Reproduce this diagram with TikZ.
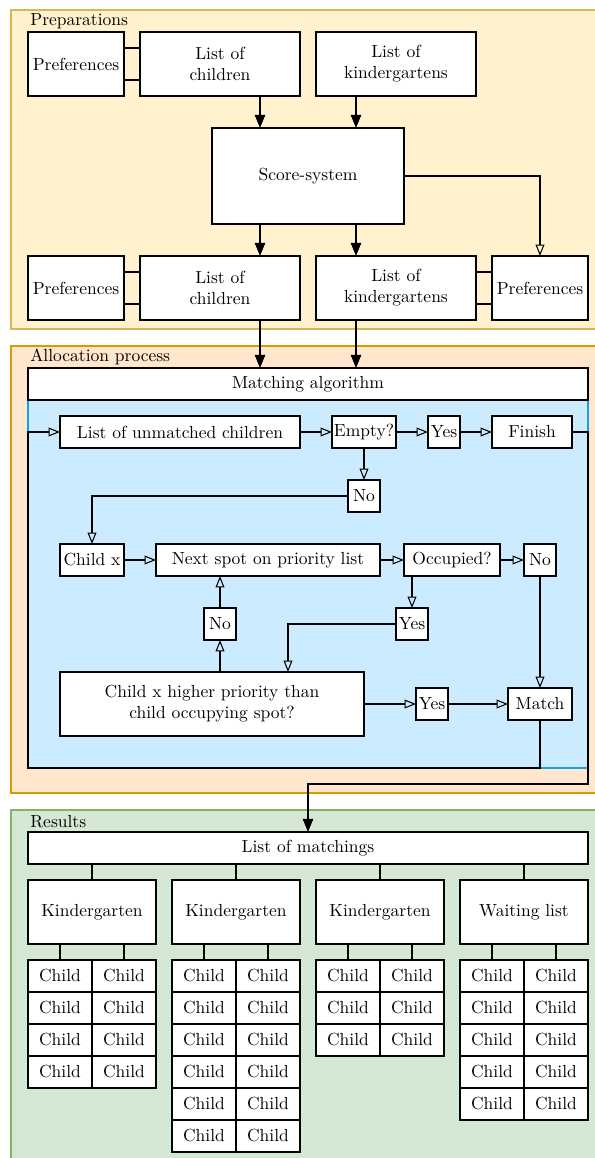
\documentclass[tikz,border=0pt]{standalone}
\usetikzlibrary{arrows.meta,calc}
\definecolor{prepfill}{HTML}{FFF2CC}
\definecolor{prepline}{HTML}{D6B656}
\definecolor{allocfill}{HTML}{FFE6CC}
\definecolor{allocline}{HTML}{D79B00}
\definecolor{resfill}{HTML}{D5E8D4}
\definecolor{resline}{HTML}{82B366}
\definecolor{lanefill}{HTML}{CCEBFF}
\definecolor{laneline}{HTML}{1BA1E2}
\begin{document}
\begin{tikzpicture}[x=0.5714pt,y=-0.5714pt,
  sz/.style 2 args={minimum width=#1*0.5714pt, minimum height=#2*0.5714pt},
  box/.style={draw, fill=white, line width=0.6pt, align=center, inner sep=1pt, outer sep=0pt},
  ln/.style={line width=0.6pt},
  farrow/.style={ln, -{Triangle[length=7.5pt,width=6pt]}},
  oarrow/.style={ln, -{Triangle[open,length=6.5pt,width=5pt]}},
  grp/.style={line width=0.7pt},
  glabel/.style={anchor=west, inner sep=0pt}]
\useasboundingbox (0,0) rectangle (594,1158);

% groups
\draw[grp, draw=prepline, fill=prepfill] (11,10) rectangle (610,329);
\node[glabel] (lprep) at (30,21) {Preparations};
\draw[grp, draw=allocline, fill=allocfill] (11,346) rectangle (610,793);
\node[glabel] (lalloc) at (30,357) {Allocation process};
\draw[grp, draw=resline, fill=resfill] (11,810) rectangle (610,1170);
\node[glabel] (lres) at (30,822) {Results};

% Preparations
\node[box, sz={96}{64}] (prefA) at (76,64) {Preferences};
\node[box, sz={160}{64}] (childA) at (220,64) {List of\\children};
\node[box, sz={160}{64}] (kgA) at (396,64) {List of\\kindergartens};
\node[box, sz={192}{96}] (score) at (308,176) {Score-system};
\node[box, sz={96}{64}] (prefB) at (76,288) {Preferences};
\node[box, sz={160}{64}] (childB) at (220,288) {List of\\children};
\node[box, sz={160}{64}] (kgB) at (396,288) {List of\\kindergartens};
\node[box, sz={96}{64}] (prefC) at (540,288) {Preferences};

\foreach \a/\b in {prefA/childA, prefB/childB, kgB/prefC} {
  \draw[ln] ($(\a.east)+(0,-16)$) -- ($(\b.west)+(0,-16)$);
  \draw[ln] ($(\a.east)+(0,16)$) -- ($(\b.west)+(0,16)$);
}
\draw[farrow] ($(childA.south)+(40,0)$) coordinate (t1) -- (t1 |- score.north);
\draw[farrow] ($(kgA.south)+(-40,0)$) coordinate (t2) -- (t2 |- score.north);
\coordinate (t3) at ($(childB.north)+(40,0)$);
\coordinate (t4) at ($(kgB.north)+(-40,0)$);
\draw[farrow] (score.south -| t3) -- (t3);
\draw[farrow] (score.south -| t4) -- (t4);
\draw[oarrow] (score.east) -| (prefC.north);

% Allocation
\node[draw=laneline, fill=lanefill, line width=0.7pt, sz={560}{368}, outer sep=0pt] (lane) at (308,584) {};
\node[box, sz={560}{32}] (matchalg) at (308,384) {Matching algorithm};
\draw[farrow] ($(childB.south)+(40,0)$) coordinate (t5) -- (t5 |- matchalg.north);
\draw[farrow] ($(kgB.south)+(-40,0)$) coordinate (t6) -- (t6 |- matchalg.north);

\node[box, sz={240}{32}] (unm) at (180,432) {List of unmatched children};
\node[box, sz={64}{32}] (empty) at (364,432) {Empty?};
\node[box, sz={32}{32}] (yes1) at (444,432) {Yes};
\node[box, sz={80}{32}] (finish) at (532,432) {Finish};
\node[box, sz={32}{32}] (no1) at (364,496) {No};
\node[box, sz={64}{32}] (childx) at (92,560) {Child x};
\node[box, sz={224}{32}] (next) at (268,560) {Next spot on priority list};
\node[box, sz={96}{32}] (occ) at (452,560) {Occupied?};
\node[box, sz={32}{32}] (no2) at (540,560) {No};
\node[box, sz={32}{32}] (no3) at (220,624) {No};
\node[box, sz={32}{32}] (yes2) at (412,624) {Yes};
\node[box, sz={304}{64}] (prio) at (212,704) {Child x higher priority than\\child occupying spot?};
\node[box, sz={32}{32}] (yes3) at (432,704) {Yes};
\node[box, sz={64}{32}] (match) at (540,704) {Match};

\draw[oarrow] (unm) -- (empty);
\draw[oarrow] (empty) -- (yes1);
\draw[oarrow] (yes1) -- (finish);
\draw[oarrow] (empty) -- (no1);
\draw[oarrow] (no1.west) -| (childx.north);
\draw[oarrow] (childx) -- (next);
\draw[oarrow] (next) -- (occ);
\draw[oarrow] (occ) -- (no2);
\draw[oarrow] (occ.south -| yes2.north) -- (yes2.north);
\draw[oarrow] (yes2.west) -| ($(prio.north)+(76,0)$);
\draw[oarrow] (prio.north -| no3.south) -- (no3.south);
\draw[oarrow] (no3.north) -- (no3.north |- next.south);
\draw[oarrow] (prio.east |- yes3.west) -- (yes3.west);
\draw[oarrow] (yes3) -- (match);
\draw[oarrow] (no2) -- (match);
\draw[oarrow] (match.south) |- (lane.south west) -- (lane.west |- unm.west) -- (unm.west);

% Results
\node[box, sz={560}{32}] (matchings) at (308,848) {List of matchings};
\draw[farrow] (finish.east) -- (finish.east -| lane.east) -- ($(lane.south east)+(0,16)$) -| (matchings.north);

\node[box, sz={128}{64}] (kg1) at (92,912) {Kindergarten};
\node[box, sz={128}{64}] (kg2) at (236,912) {Kindergarten};
\node[box, sz={128}{64}] (kg3) at (380,912) {Kindergarten};
\node[box, sz={128}{64}] (kg4) at (524,912) {Waiting list};

\foreach \g/\cx/\n in {1/92/4, 2/236/6, 3/380/3, 4/524/5} {
  \draw[ln] (matchings.south -| kg\g.north) -- (kg\g.north);
  \foreach \r in {1,...,\n} {
    \node[box, sz={64}{32}] (c\g-\r-l) at ({\cx-32},{944+32*\r}) {Child};
    \node[box, sz={64}{32}] (c\g-\r-r) at ({\cx+32},{944+32*\r}) {Child};
  }
  \draw[ln] (kg\g.south -| c\g-1-l.north) -- (c\g-1-l.north);
  \draw[ln] (kg\g.south -| c\g-1-r.north) -- (c\g-1-r.north);
}
\end{tikzpicture}
\end{document}
